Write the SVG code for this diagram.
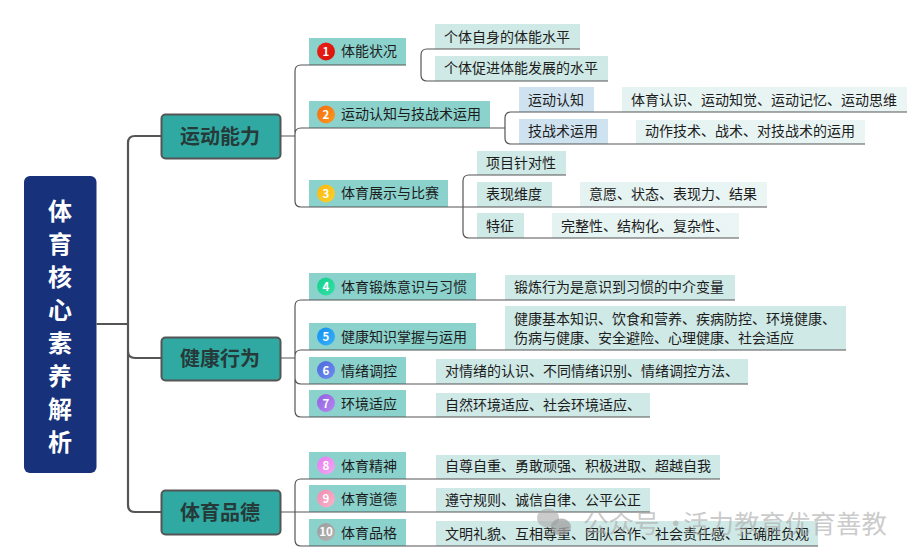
<svg xmlns="http://www.w3.org/2000/svg" width="918" height="560" viewBox="0 0 918 560">
<style>
text{font-family:"Noto Sans CJK SC","Noto Sans",sans-serif}
.t{font-size:14px;fill:#1c1c1c}
.b{font-size:20px;font-weight:700;fill:#263a3a;text-anchor:middle}
.r{font-size:24px;font-weight:700;fill:#fff;text-anchor:middle}
.n{font-size:11.5px;font-weight:700;fill:#fff;text-anchor:middle}
.sub{fill:#8bd2cd}
.leaf{fill:#cfe9e6}
.pale{fill:url(#pale)}
.blue{fill:#cfe2f0}
.branch{fill:#2fa9a1;stroke:#555;stroke-width:2}
.c1{fill:none;stroke:#555;stroke-width:1.2}
.c2{fill:none;stroke:#555;stroke-width:2.2}
.wm{font-size:25.500px;fill:#a8a8a8;fill-opacity:.6}
</style>
<defs>
<linearGradient id="pale" x1="0" x2="1" y1="0" y2="0"><stop offset="0" stop-color="#e4f3f1"/><stop offset="1" stop-color="#eaf5f4"/></linearGradient>
<linearGradient id="g1" x1="0" x2="1" y1="0" y2="1"><stop offset="0" stop-color="#e8201a"/><stop offset="1" stop-color="#d81208"/></linearGradient>
<linearGradient id="g2" x1="0" x2="1" y1="0" y2="1"><stop offset="0" stop-color="#f56a10"/><stop offset="1" stop-color="#fb9a20"/></linearGradient>
<linearGradient id="g3" x1="0" x2="1" y1="0" y2="1"><stop offset="0" stop-color="#fbb80e"/><stop offset="1" stop-color="#fcd02c"/></linearGradient>
<linearGradient id="g4" x1="0" x2="1" y1="0" y2="1"><stop offset="0" stop-color="#12cf8c"/><stop offset="1" stop-color="#35dfa8"/></linearGradient>
<linearGradient id="g5" x1="0" x2="1" y1="0" y2="1"><stop offset="0" stop-color="#1390f0"/><stop offset="1" stop-color="#38b0fa"/></linearGradient>
<linearGradient id="g6" x1="0" x2="1" y1="0" y2="1"><stop offset="0" stop-color="#4d68dd"/><stop offset="1" stop-color="#6f8df0"/></linearGradient>
<linearGradient id="g7" x1="0" x2="1" y1="0" y2="1"><stop offset="0" stop-color="#9160e0"/><stop offset="1" stop-color="#b488f0"/></linearGradient>
<linearGradient id="g8" x1="0" x2="1" y1="0" y2="1"><stop offset="0" stop-color="#e67cf0"/><stop offset="1" stop-color="#f3a8f2"/></linearGradient>
<linearGradient id="g9" x1="0" x2="1" y1="0" y2="1"><stop offset="0" stop-color="#f08cb0"/><stop offset="1" stop-color="#f8b4cc"/></linearGradient>
<linearGradient id="g10" x1="0" x2="1" y1="0" y2="1"><stop offset="0" stop-color="#9c9c9c"/><stop offset="1" stop-color="#b4b4b4"/></linearGradient>
</defs>
<rect width="918" height="560" fill="#fff"/>

<g id="root"><rect x="24" y="176" width="72.500" height="297" rx="6" fill="#17317a"/>
<text class="r" x="60" y="220">体</text><text class="r" x="60" y="253">育</text><text class="r" x="60" y="286">核</text><text class="r" x="60" y="319">心</text><text class="r" x="60" y="352">素</text><text class="r" x="60" y="385">养</text><text class="r" x="60" y="418">解</text><text class="r" x="60" y="451">析</text></g>

<g id="b1"><rect class="branch" x="161.500" y="114.500" width="119" height="44" rx="4"/><text class="b" x="220" y="144">运动能力</text></g>
<g id="b2"><rect class="branch" x="161.500" y="337.500" width="119" height="43" rx="4"/><text class="b" x="220" y="366">健康行为</text></g>
<g id="b3"><rect class="branch" x="161.500" y="490.500" width="119" height="44" rx="4"/><text class="b" x="220" y="520">体育品德</text></g>

<g id="s1"><rect class="sub" x="309" y="38" width="97" height="27"/><circle cx="326" cy="51.500" r="9" fill="url(#g1)"/><text class="n" x="326" y="56">1</text><text class="t" x="341" y="56">体能状况</text></g>
<g id="s2"><rect class="sub" x="309" y="101" width="181" height="27"/><circle cx="326" cy="114.500" r="9" fill="url(#g2)"/><text class="n" x="326" y="119">2</text><text class="t" x="341" y="119">运动认知与技战术运用</text></g>
<g id="s3"><rect class="sub" x="309" y="180" width="139" height="27"/><circle cx="326" cy="193.500" r="9" fill="url(#g3)"/><text class="n" x="326" y="198">3</text><text class="t" x="341" y="198">体育展示与比赛</text></g>
<g id="s4"><rect class="sub" x="309" y="273" width="167" height="27"/><circle cx="326" cy="286.500" r="9" fill="url(#g4)"/><text class="n" x="326" y="291">4</text><text class="t" x="341" y="292">体育锻炼意识与习惯</text></g>
<g id="s5"><rect class="sub" x="309" y="323" width="167" height="27"/><circle cx="326" cy="336.500" r="9" fill="url(#g5)"/><text class="n" x="326" y="341">5</text><text class="t" x="341" y="342">健康知识掌握与运用</text></g>
<g id="s6"><rect class="sub" x="309" y="357" width="97" height="27"/><circle cx="326" cy="370" r="9" fill="url(#g6)"/><text class="n" x="326" y="374.500">6</text><text class="t" x="341" y="376">情绪调控</text></g>
<g id="s7"><rect class="sub" x="309" y="390" width="97" height="27"/><circle cx="326" cy="403" r="9" fill="url(#g7)"/><text class="n" x="326" y="407.500">7</text><text class="t" x="341" y="409">环境适应</text></g>
<g id="s8"><rect class="sub" x="309" y="452" width="97" height="27"/><circle cx="326" cy="465.500" r="9" fill="url(#g8)"/><text class="n" x="326" y="470">8</text><text class="t" x="341" y="471">体育精神</text></g>
<g id="s9"><rect class="sub" x="309" y="485" width="97" height="27"/><circle cx="326" cy="498.500" r="9" fill="url(#g9)"/><text class="n" x="326" y="503">9</text><text class="t" x="341" y="504">体育道德</text></g>
<g id="s10"><rect class="sub" x="309" y="519" width="97" height="27"/><circle cx="326" cy="532" r="9" fill="url(#g10)"/><text class="n" x="326" y="536">10</text><text class="t" x="341" y="538">体育品格</text></g>

<g id="l1"><rect class="leaf" x="435" y="24" width="145" height="25"/><text class="t" x="444" y="42">个体自身的体能水平</text></g>
<g id="l2"><rect class="leaf" x="435" y="56" width="173" height="25"/><text class="t" x="444" y="73">个体促进体能发展的水平</text></g>
<g id="l3"><rect class="blue" x="519" y="87" width="75" height="25"/><text class="t" x="528" y="105">运动认知</text></g>
<g id="l4"><rect class="pale" x="622" y="87" width="285" height="25"/><text class="t" x="631" y="105">体育认识、运动知觉、运动记忆、运动思维</text></g>
<g id="l5"><rect class="blue" x="519" y="119" width="89" height="25"/><text class="t" x="528" y="136">技战术运用</text></g>
<g id="l6"><rect class="pale" x="636" y="120" width="229" height="24"/><text class="t" x="645" y="136">动作技术、战术、对技战术的运用</text></g>
<g id="l7"><rect class="leaf" x="477" y="151" width="89" height="24"/><text class="t" x="486" y="168">项目针对性</text></g>
<g id="l8"><rect class="leaf" x="477" y="182" width="75" height="25"/><text class="t" x="486" y="199">表现维度</text></g>
<g id="l9"><rect class="pale" x="580" y="182" width="187" height="25"/><text class="t" x="589" y="199">意愿、状态、表现力、结果</text></g>
<g id="l10"><rect class="leaf" x="477" y="213" width="47" height="25"/><text class="t" x="486" y="231">特征</text></g>
<g id="l11"><rect class="pale" x="552" y="213" width="187" height="25"/><text class="t" x="561" y="231">完整性、结构化、复杂性、</text></g>
<g id="l12"><rect class="leaf" x="505" y="275" width="230" height="25"/><text class="t" x="514" y="292">锻炼行为是意识到习惯的中介变量</text></g>
<g id="l13"><rect class="leaf" x="505" y="306" width="341" height="44"/><text class="t" x="514" y="324">健康基本知识、饮食和营养、疾病防控、环境健康、</text><text class="t" x="514" y="343">伤病与健康、安全避险、心理健康、社会适应</text></g>
<g id="l14"><rect class="leaf" x="436" y="359" width="312" height="25"/><text class="t" x="445" y="376">对情绪的认识、不同情绪识别、情绪调控方法、</text></g>
<g id="l15"><rect class="leaf" x="436" y="393" width="214" height="24"/><text class="t" x="445" y="410">自然环境适应、社会环境适应、</text></g>
<g id="l16"><rect class="leaf" x="436" y="455" width="284" height="24"/><text class="t" x="445" y="471">自尊自重、勇敢顽强、积极进取、超越自我</text></g>
<g id="l17"><rect class="leaf" x="436" y="488" width="214" height="24"/><text class="t" x="445" y="505">遵守规则、诚信自律、公平公正</text></g>
<g id="l18"><rect class="leaf" x="436" y="521" width="382" height="25"/><text class="t" x="445" y="539">文明礼貌、互相尊重、团队合作、社会责任感、正确胜负观</text></g>

<g id="connectors">
<path class="c2" d="M96.500 324H128M161 136H135Q128 136 128 143V505Q128 512 135 512H161M128 351Q128 358 135 358H161"/>
<path class="c1" d="M281 136H295M406 65H301Q295 65 295 71V201Q295 207 301 207H767M295 134Q295 128 301 128H505M421 65V55Q421 49 427 49H580M421 65V75Q421 81 427 81H608M505 128V118Q505 112 511 112H907M505 128V138Q505 144 511 144H865M463 207V181Q463 175 469 175H566M463 207V232Q463 238 469 238H739"/>
<path class="c1" d="M281 358H295M735 300H301Q295 300 295 306V411Q295 417 301 417H650M846 350H301Q295 350 295 356V378Q295 384 301 384H748"/>
<path class="c1" d="M281 512H295M720 479H301Q295 479 295 485V540Q295 546 301 546H818M295 512H650"/>
</g>

<g id="watermark">
<ellipse cx="548" cy="518" rx="11" ry="9.500" fill="#a8a8a8" fill-opacity=".6"/>
<ellipse cx="561" cy="527" rx="10" ry="8.500" fill="#a0a0a0" fill-opacity=".75"/>
<text class="wm" y="533"><tspan x="583">公众号</tspan><tspan x="663">·</tspan><tspan x="683">活力教育优育善教</tspan></text>
</g>
</svg>
